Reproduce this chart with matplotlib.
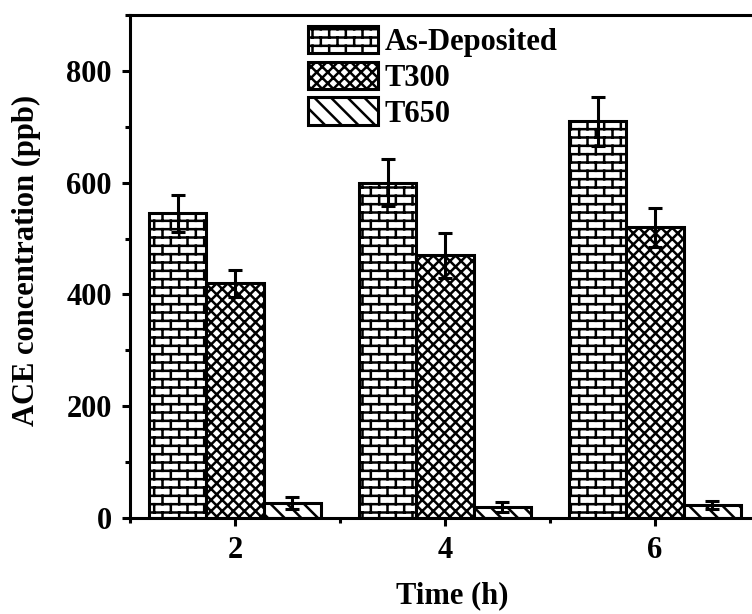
import warnings
import numpy as np
import matplotlib
matplotlib.use('Agg')
import matplotlib.pyplot as plt
import matplotlib.hatch as mhatch
from matplotlib.path import Path
from matplotlib.ticker import MultipleLocator

warnings.filterwarnings('ignore')

# data
times = [2, 4, 6]
series = ['As-Deposited', 'T300', 'T650']
as_dep = [545, 600, 710]
as_dep_err = [33, 42, 44]
t300 = [420, 470, 520]
t300_err = [24, 40, 35]
t650 = [27, 20, 23]
t650_err = [11, 9, 7]


# brick pattern hatch ('b'), not in matplotlib by default
class BrickHatch(mhatch.HatchPatternBase):
	rows = 12
	cols = 6

	def __init__(self, hatch, density):
		if hatch.count('b') > 0:
			# horizontal lines + vertical pieces (last row split in two)
			self.num_vertices = 2 * (self.rows + self.rows * self.cols + self.cols)
		else:
			self.num_vertices = 0

	def set_vertices_and_codes(self, vertices, codes):
		r, c = self.rows, self.cols
		segs = []
		for i in range(r):
			y = (i + 0.5) / r
			segs.append(((0.0, y), (1.0, y)))
		for i in range(r):
			y0 = (i + 0.5) / r
			y1 = (i + 1.5) / r
			for j in range(c):
				x = (j + 0.25 + 0.5 * (i % 2)) / c
				if y1 <= 1.0:
					segs.append(((x, y0), (x, y1)))
				else:
					segs.append(((x, y0), (x, 1.0)))
					segs.append(((x, 0.0), (x, y1 - 1.0)))
		for k, (a, b) in enumerate(segs):
			vertices[2 * k] = a
			vertices[2 * k + 1] = b
			codes[2 * k] = Path.MOVETO
			codes[2 * k + 1] = Path.LINETO


mhatch._hatch_types.append(BrickHatch)

plt.rcParams['font.family'] = 'Liberation Serif'
plt.rcParams['font.weight'] = 'bold'
plt.rcParams['hatch.linewidth'] = 1.8
plt.rcParams['hatch.color'] = 'black'

fig = plt.figure(figsize=(7.52, 6.14), dpi=100)
# axes run a bit past the right edge of the figure, as in the original
ax = fig.add_axes([130 / 752, 96 / 614, 630 / 752, 503 / 614])

w = 0.543
x = np.array(times, dtype=float)
vals = [as_dep, t300, t650]
errs = [as_dep_err, t300_err, t650_err]
hatches = ['b', 'xxx', '\\\\']
for k in range(3):
	ax.bar(x + (k - 1) * w, vals[k], w, color='white', edgecolor='black',
		linewidth=2.2, hatch=hatches[k], label=series[k], zorder=2)
	ax.errorbar(x + (k - 1) * w, vals[k], yerr=errs[k], fmt='none', ecolor='black',
		elinewidth=2.2, capsize=5, capthick=2.2, zorder=3)

ax.set_xlim(1, 7)
ax.set_ylim(0, 900)
ax.xaxis.set_major_locator(MultipleLocator(2))
ax.xaxis.set_minor_locator(MultipleLocator(1))
ax.yaxis.set_major_locator(MultipleLocator(200))
ax.yaxis.set_minor_locator(MultipleLocator(100))
ax.set_xticks(times)
for s in ax.spines.values():
	s.set_linewidth(2.2)
ax.tick_params(which='major', direction='out', length=6, width=2.2, labelsize=22, pad=7)
ax.tick_params(which='minor', direction='out', length=3.5, width=2.2)
ax.set_xlabel('Time (h)', fontsize=22, fontweight='bold')
ax.set_ylabel('ACE concentration (ppb)', fontsize=22, fontweight='bold')
ax.xaxis.set_label_coords(322 / 630, -63 / 503)
ax.yaxis.set_label_coords(-89 / 630, 258 / 503)

leg = ax.legend(loc='upper left', bbox_to_anchor=(308 / 752, 1 - 26 / 614),
	bbox_transform=fig.transFigure, frameon=False, fontsize=22,
	handlelength=2.3, handleheight=1.0, handletextpad=0.2, labelspacing=0.15,
	borderpad=0, borderaxespad=0)

fig.savefig('out.png', dpi=100)
